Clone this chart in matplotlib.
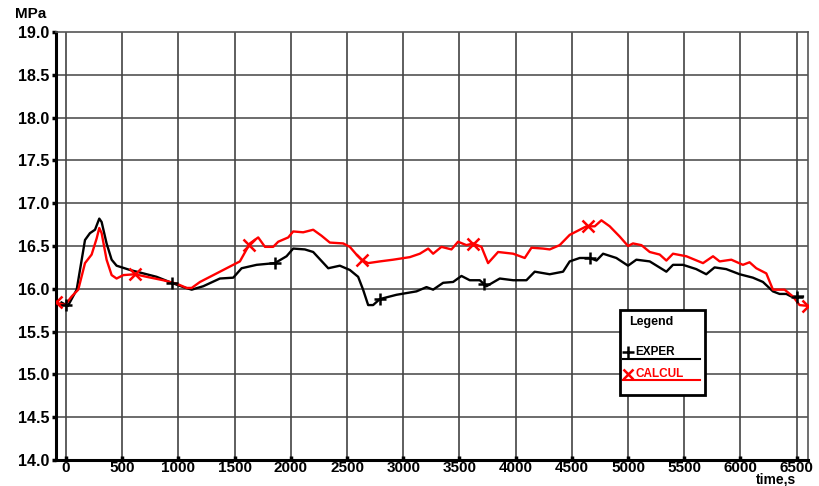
import numpy as np
import matplotlib
matplotlib.use("Agg")
import matplotlib.pyplot as plt
from matplotlib.lines import Line2D
from matplotlib.patches import Rectangle

# Measured pressure (EXPER)
exper_t = [-40, 17, 95, 169, 213, 258, 296, 317, 361, 406, 450, 569, 688, 806,
           940, 1043, 1118, 1221, 1369, 1488, 1562, 1696, 1858, 1962, 2021, 2125,
           2199, 2333, 2436, 2525, 2599, 2643, 2688, 2732, 2792, 2940, 3118, 3207,
           3266, 3355, 3444, 3518, 3592, 3681, 3741, 3859, 3978, 4096, 4170, 4303,
           4422, 4481, 4570, 4659, 4719, 4778, 4896, 5000, 5074, 5193, 5341, 5400,
           5489, 5607, 5696, 5770, 5874, 5993, 6111, 6200, 6289, 6348, 6408, 6452,
           6556]
exper_p = [15.84, 15.80, 15.99, 16.57, 16.65, 16.69, 16.82, 16.78, 16.53, 16.34,
           16.27, 16.22, 16.18, 16.14, 16.07, 16.02, 15.99, 16.03, 16.12, 16.13,
           16.24, 16.28, 16.30, 16.38, 16.47, 16.46, 16.43, 16.24, 16.27, 16.22,
           16.14, 15.99, 15.81, 15.81, 15.88, 15.93, 15.97, 16.02, 15.99, 16.07,
           16.08, 16.15, 16.10, 16.10, 16.03, 16.12, 16.10, 16.10, 16.20, 16.17,
           16.20, 16.32, 16.36, 16.36, 16.33, 16.41, 16.36, 16.27, 16.34, 16.32,
           16.20, 16.28, 16.28, 16.23, 16.17, 16.25, 16.23, 16.17, 16.13, 16.08,
           15.97, 15.94, 15.94, 15.91, 15.91]

# Calculated pressure (CALCUL)
calc_t = [-89, -9, 50, 109, 169, 228, 273, 296, 317, 361, 406, 450, 510, 614,
          717, 865, 984, 1073, 1118, 1192, 1340, 1458, 1547, 1636, 1710, 1770,
          1843, 1888, 1977, 2021, 2110, 2199, 2273, 2347, 2466, 2525, 2584, 2629,
          2688, 2792, 2910, 3059, 3148, 3222, 3266, 3340, 3429, 3488, 3562, 3622,
          3696, 3755, 3844, 3978, 4081, 4141, 4244, 4303, 4392, 4481, 4630, 4704,
          4763, 4837, 4926, 5000, 5044, 5119, 5193, 5282, 5341, 5400, 5519, 5667,
          5756, 5815, 5919, 6022, 6081, 6141, 6230, 6289, 6393, 6467, 6526, 6601]
calc_p = [15.84, 15.81, 15.91, 15.99, 16.30, 16.40, 16.59, 16.71, 16.65, 16.34,
          16.16, 16.12, 16.16, 16.17, 16.14, 16.10, 16.06, 16.01, 16.01, 16.08,
          16.18, 16.26, 16.32, 16.53, 16.60, 16.49, 16.49, 16.55, 16.60, 16.67,
          16.66, 16.69, 16.62, 16.54, 16.53, 16.49, 16.40, 16.34, 16.30, 16.32,
          16.34, 16.37, 16.41, 16.47, 16.41, 16.49, 16.46, 16.55, 16.51, 16.53,
          16.49, 16.30, 16.43, 16.41, 16.36, 16.48, 16.47, 16.46, 16.51, 16.63,
          16.73, 16.73, 16.80, 16.73, 16.61, 16.50, 16.53, 16.51, 16.43, 16.40,
          16.33, 16.41, 16.38, 16.30, 16.38, 16.32, 16.34, 16.28, 16.31, 16.24,
          16.18, 15.99, 15.99, 15.91, 15.81, 15.80]

# Times at which the series symbols are placed
exper_mark_t = [0, 940, 1860, 2790, 3720, 4660, 6500]
calc_mark_t = [-89, 614, 1626, 2632, 3619, 4641, 6601]

x_ticks = [0, 500, 1000, 1500, 2000, 2500, 3000, 3500, 4000, 4500, 5000,
           5500, 6000, 6500]
y_ticks = [14.0, 14.5, 15.0, 15.5, 16.0, 16.5, 17.0, 17.5, 18.0, 18.5, 19.0]

plt.rcParams['font.family'] = ['Liberation Sans', 'DejaVu Sans']

W, H = 819, 486
fig = plt.figure(figsize=(W / 100, H / 100), dpi=100)
ax = fig.add_axes([56 / W, 1 - 460 / H, (808 - 56) / W, (460 - 32) / H])

ax.set_xlim(-89, 6601)
ax.set_ylim(14.0, 19.0)

# grid
for xt in x_ticks:
    ax.axvline(xt, color='#333333', lw=1.1, zorder=1)
for yt in y_ticks[1:-1]:
    ax.axhline(yt, color='#444444', lw=1.1, zorder=1)

ax.plot(exper_t, exper_p, color='black', lw=1.7, zorder=3, clip_on=True)
ax.plot(calc_t, calc_p, color='#ff0000', lw=1.7, zorder=4, clip_on=True)

ax.plot(exper_mark_t, np.interp(exper_mark_t, exper_t, exper_p), ls='none',
        marker='+', ms=9, mew=1.8, color='black', zorder=5)
ax.plot(calc_mark_t, np.interp(calc_mark_t, calc_t, calc_p), ls='none',
        marker='x', ms=9, mew=1.8, color='#ff0000', zorder=6)

ax.set_xticks(x_ticks)
ax.set_yticks(y_ticks)
ax.set_xticklabels([str(v) for v in x_ticks], fontsize=11, fontweight='bold')
ax.set_yticklabels([f"{v:.1f}" for v in y_ticks], fontsize=11.5,
                   fontweight='bold')
ax.tick_params(axis='x', direction='in', length=3, width=2.5, pad=0.5)
ax.tick_params(axis='y', direction='out', length=3, width=2.5, pad=2)

for side in ['left', 'bottom']:
    ax.spines[side].set_linewidth(2.2)
    ax.spines[side].set_color('black')
for side in ['top', 'right']:
    ax.spines[side].set_linewidth(1.2)
    ax.spines[side].set_color('#555555')

fig.text(31 / W, 1 - 14 / H, 'MPa', fontsize=11, fontweight='bold',
         ha='center', va='center')
fig.text(776 / W, 1 - 483 / H, 'time,s', fontsize=10, fontweight='bold',
         ha='center', va='baseline')

# legend box
fig.patches.append(Rectangle((620 / W, 1 - 395 / H), 85 / W, 85 / H,
                             transform=fig.transFigure, facecolor='white',
                             edgecolor='black', lw=2, zorder=10))
fig.text(629 / W, 1 - 322 / H, 'Legend', fontsize=9, fontweight='bold',
         ha='left', va='center', zorder=11)
fig.lines.append(Line2D([623 / W, 700 / W], [1 - 359 / H, 1 - 359 / H],
                        transform=fig.transFigure, color='black', lw=1.5, zorder=11))
fig.lines.append(Line2D([628 / W], [1 - 352 / H], transform=fig.transFigure,
                        marker='+', ms=8, mew=1.8, color='black', zorder=11))
fig.text(635 / W, 1 - 352 / H, 'EXPER', fontsize=8.5, fontweight='bold',
         color='black', ha='left', va='center', zorder=11)
fig.lines.append(Line2D([623 / W, 700 / W], [1 - 380 / H, 1 - 380 / H],
                        transform=fig.transFigure, color='#ff0000', lw=1.5, zorder=11))
fig.lines.append(Line2D([628 / W], [1 - 374 / H], transform=fig.transFigure,
                        marker='x', ms=7, mew=1.8, color='#ff0000', zorder=11))
fig.text(635 / W, 1 - 374 / H, 'CALCUL', fontsize=8.5, fontweight='bold',
         color='#ff0000', ha='left', va='center', zorder=11)

fig.savefig('out.png', dpi=100)
